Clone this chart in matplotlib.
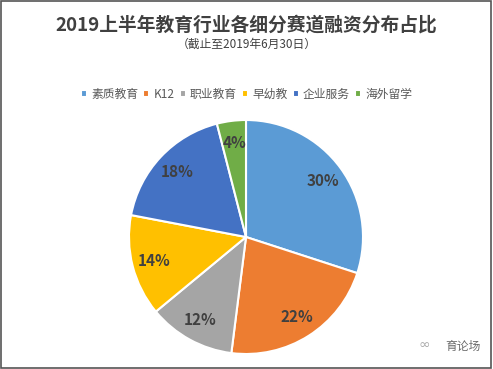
import matplotlib
matplotlib.use("Agg")
import matplotlib.pyplot as plt
from matplotlib.patches import Rectangle

plt.rcParams['font.family'] = ['Noto Sans CJK SC', 'DejaVu Sans']

categories = ['素质教育', 'K12', '职业教育', '早幼教', '企业服务', '海外留学']
values = [30, 22, 12, 14, 18, 4]
colors = ['#5B9BD5', '#ED7D31', '#A5A5A5', '#FFC000', '#4472C4', '#70AD47']

title = '2019上半年教育行业各细分赛道融资分布占比'
subtitle = '（截止至2019年6月30日）'

fig = plt.figure(figsize=(4.93, 3.69), dpi=100)
fig.patch.set_facecolor('white')

# pie axes: center (246,237), radius ~117 px
cx, cy, r = 246, 237, 117
W, H = 493, 369
ax = fig.add_axes([(cx - r) / W, (H - cy - r) / H, 2 * r / W, 2 * r / H])
wedges, texts, autotexts = ax.pie(
    values, colors=colors, startangle=90, counterclock=False,
    autopct='%1.0f%%', pctdistance=0.81, radius=1.0,
    wedgeprops=dict(edgecolor='white', linewidth=1.5),
    textprops=dict(color='#404040', fontsize=11, fontweight='bold'))
ax.set_xlim(-1, 1)
ax.set_ylim(-1, 1)
ax.set_aspect('equal')
ax.axis('off')

fig.text(0.5, 1 - 25 / H, title, ha='center', va='center', fontsize=13.5,
         fontweight='bold', color='#404040')
fig.text(0.5, 1 - 44 / H, subtitle, ha='center', va='center', fontsize=8.5,
         color='#404040')

leg = fig.legend(wedges, categories, loc='center', bbox_to_anchor=(0.5, 1 - 94 / H),
                 ncol=6, frameon=False, fontsize=8.5, handlelength=0.5, handleheight=0.5,
                 handletextpad=0.35, columnspacing=0.45, labelcolor='#595959')

fig.text(445 / W, 1 - 346 / H, '育论场', ha='left', va='center', fontsize=8.5,
         color='#6a6a6a')
fig.text(424 / W, 1 - 345 / H, '∞', ha='center', va='center', fontsize=10,
         color='#aaaaaa', family=['DejaVu Sans'])

fig.add_artist(Rectangle((0.002, 0.003), 0.994, 0.994, transform=fig.transFigure,
                         fill=False, edgecolor='#555555', linewidth=1.2))

fig.savefig('out.png', dpi=100)
